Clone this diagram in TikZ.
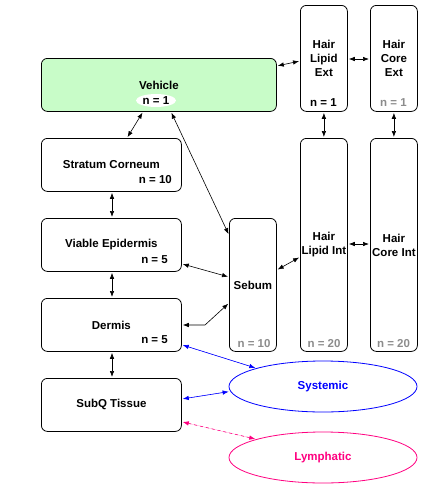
\documentclass[tikz,border=0pt]{standalone}
\usepackage{fontspec}
\setmainfont{Liberation Sans}
\usetikzlibrary{arrows.meta,shapes.geometric}
\definecolor{vehgreen}{HTML}{C8FCC8}
\definecolor{sysblue}{HTML}{0000FF}
\definecolor{lympink}{HTML}{FF0080}
\definecolor{ngrey}{HTML}{8C8C8C}
\begin{document}
\begin{tikzpicture}[x=1pt,y=-1pt,
  font=\fontsize{11.5}{14}\selectfont\bfseries,
  box/.style={draw, rounded corners=6pt, line width=0.8pt, inner sep=0pt, anchor=north west, align=center},
  nl/.style={inner sep=0pt},
  ngl/.style={inner sep=0pt, text=ngrey},
  conn/.style={{Latex[length=6pt,width=4.5pt]}-{Latex[length=6pt,width=4.5pt]}, line width=0.6pt, shorten <=1pt, shorten >=1pt},
  oval/.style={ellipse, draw, line width=0.8pt, minimum width=188pt, minimum height=51pt, inner sep=0pt}
]
\useasboundingbox (0,0) rectangle (439,491);
% boxes
\node[box, fill=vehgreen, minimum width=235pt, minimum height=53pt] (veh) at (41,58) {Vehicle};
\node[box, minimum width=140pt, minimum height=53pt] (sc) at (41,138) {Stratum Corneum};
\node[box, minimum width=140pt, minimum height=53pt] (ve) at (41,218) {Viable Epidermis};
\node[box, minimum width=140pt, minimum height=53pt] (de) at (41,298) {Dermis};
\node[box, minimum width=140pt, minimum height=53pt] (sq) at (41,378) {SubQ Tissue};
\node[box, minimum width=47pt, minimum height=133pt] (seb) at (229,218) {Sebum};
\node[box, minimum width=47pt, minimum height=106pt] (hle) at (300,5) {Hair\\Lipid\\Ext};
\node[box, minimum width=47pt, minimum height=106pt] (hce) at (370,5) {Hair\\Core\\Ext};
\node[box, minimum width=47pt, minimum height=213pt] (hli) at (300,138) {Hair\\Lipid Int};
\node[box, minimum width=47pt, minimum height=213pt] (hci) at (370,138) {Hair\\Core Int};
\node[oval, draw=sysblue, text=sysblue] (sys) at (323,386.5) {Systemic};
\node[oval, draw=lympink, text=lympink] (lym) at (323,457.5) {Lymphatic};
% n labels
\node[ellipse, fill=white, minimum width=40pt, minimum height=13pt, inner sep=0pt] (vehn) at (156,100.5) {n = 1};
\node[nl, anchor=east] (scn) at (172,180) {n = 10};
\node[nl, anchor=east] (ven) at (168,260) {n = 5};
\node[nl, anchor=east] (den) at (168,340) {n = 5};
\node[ngl] (sebn) at (254,343.5) {n = 10};
\node[nl] (hlen) at (323.5,103) {n = 1};
\node[ngl] (hcen) at (393.5,103) {n = 1};
\node[ngl] (hlin) at (324,343.5) {n = 20};
\node[ngl] (hcin) at (393.5,343.5) {n = 20};
% connectors
\draw[conn] ([xshift=102pt]veh.south west) -- ([xshift=86pt]sc.north west);
\draw[conn] ([xshift=130pt]veh.south west) -- ([yshift=-17pt]seb.north west);
\draw[conn] ([yshift=-8pt]veh.north east) -- ([yshift=-56pt]hle.north west);
\draw[conn] ([yshift=-54pt]hle.north east) -- ([yshift=-54pt]hce.north west);
\draw[conn] (hle.south) -- (hli.north);
\draw[conn] (hce.south) -- (hci.north);
\draw[conn] ([xshift=71pt]sc.south west) -- ([xshift=71pt]ve.north west);
\draw[conn] ([xshift=71pt]ve.south west) -- ([xshift=71pt]de.north west);
\draw[conn] ([xshift=71pt]de.south west) -- ([xshift=71pt]sq.north west);
\draw[conn] ([yshift=8pt]ve.south east) -- ([yshift=-59pt]seb.north west);
\draw[conn] ([yshift=-52pt]seb.north east) -- ([yshift=-119pt]hli.north west);
\draw[conn] ([yshift=-106pt]hli.north east) -- ([yshift=-106pt]hci.north west);
\coordinate (bend) at (205,325);
\draw[conn] ([yshift=-27pt]de.north east) -- (bend) -- ([yshift=-85pt]seb.north west);
\draw[conn, draw=sysblue, fill=sysblue] ([yshift=7pt]de.south east) -- (sys.north west);
\draw[conn, draw=sysblue, fill=sysblue] ([yshift=-21pt]sq.north east) -- ([yshift=-5pt,xshift=1pt]sys.west);
\draw[conn, draw=lympink, fill=lympink, dashed] ([yshift=10pt]sq.south east) -- (lym.north west);
\end{tikzpicture}
\end{document}
